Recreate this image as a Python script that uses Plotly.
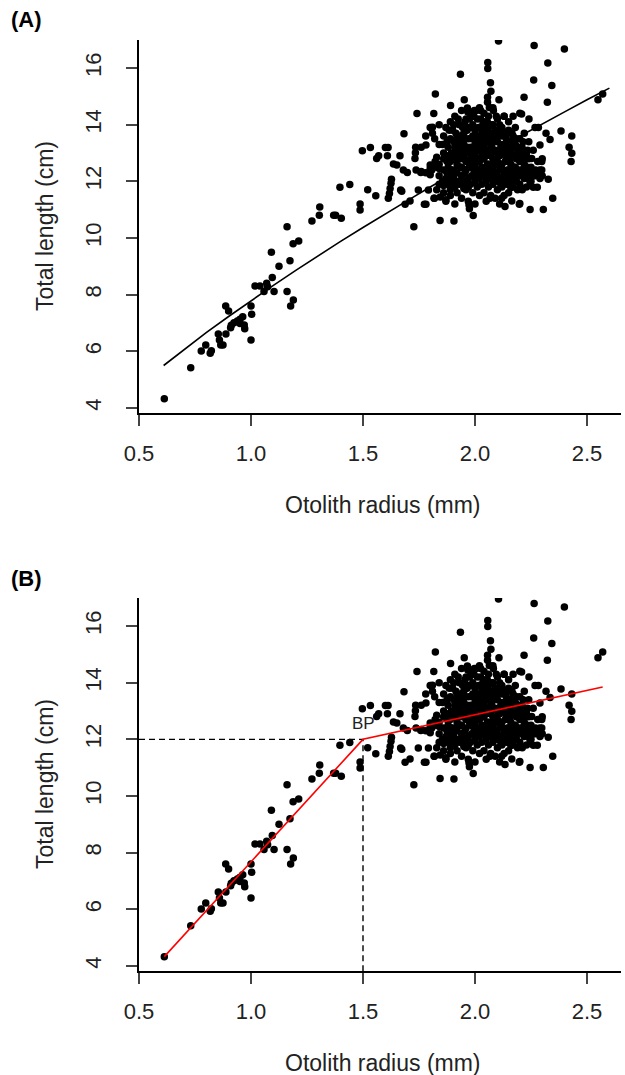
import plotly.graph_objects as go

# ---------------- data ----------------
# sparse small fish (lower-left)
radius_small = [0.613, 0.731, 0.778, 0.798, 0.818, 0.823, 0.854, 0.865, 0.875, 0.859,
                0.888, 0.887, 0.900, 0.909, 0.912, 0.924, 0.939, 0.951, 0.963, 0.970,
                0.972, 0.951, 1.000, 1.003, 1.000, 1.018, 1.040, 1.058, 1.070, 1.074,
                1.095, 1.103, 1.091, 1.125, 1.161, 1.177, 1.189, 1.174, 1.161, 1.188,
                1.213, 1.272, 1.305, 1.307, 1.369, 1.378, 1.403, 1.397, 1.441, 1.487,
                1.487, 1.497, 1.533, 1.521, 1.557, 1.561, 1.570]
length_small = [4.33, 5.42, 6.01, 6.22, 5.93, 6.02, 6.61, 6.22, 6.22, 6.40,
                6.61, 7.60, 7.42, 6.83, 6.92, 7.01, 7.07, 7.13, 7.22, 6.93,
                6.80, 6.98, 7.60, 7.31, 6.40, 8.31, 8.31, 8.11, 8.40, 8.28,
                8.61, 8.11, 9.50, 9.00, 8.11, 7.60, 7.81, 9.20, 10.40, 9.80,
                9.89, 10.60, 10.80, 11.09, 10.80, 10.80, 10.70, 11.79, 11.89, 11.20,
                10.99, 13.08, 13.19, 11.70, 11.49, 12.81, 12.90]

# periphery of the adult cloud
radius_edge = [1.600, 1.612, 1.609, 1.665, 1.735, 1.734, 1.732, 1.781, 1.683, 1.741,
               1.816, 1.823, 1.810, 1.810, 1.636, 1.651, 1.680, 1.698, 1.737, 1.758,
               1.800, 1.807, 1.800, 1.829, 1.822, 1.627, 1.625, 1.621, 1.618, 1.613,
               1.668, 1.673, 1.710, 1.688, 1.747, 1.774, 1.781, 1.792, 1.819, 1.727,
               1.844, 1.906, 1.992, 1.975, 1.973,
               2.105, 2.264, 2.399, 2.057, 2.057, 2.325, 1.935, 2.262, 2.069, 2.343,
               2.071, 2.219, 1.952, 2.056, 2.056, 2.064, 2.107, 2.323, 1.891, 1.966,
               1.968, 1.997, 2.025, 2.082, 2.130, 2.170, 2.200, 2.208, 2.241, 2.268,
               2.283, 2.549, 2.570, 2.384, 2.432, 2.317, 2.335, 2.420, 2.432, 2.429,
               2.290, 2.253, 2.298, 2.298, 2.327, 2.260, 2.278, 2.211, 2.347, 2.200,
               2.246, 2.305, 2.067, 2.119, 2.134, 2.164, 2.198, 2.160, 2.195, 1.829,
               1.817, 1.845, 1.870, 1.860, 1.890, 1.910, 1.950, 1.970]
length_edge = [13.19, 13.19, 12.90, 12.90, 13.20, 13.01, 12.81, 13.28, 13.68, 14.39,
               14.39, 15.08, 13.91, 13.70, 12.61, 12.58, 12.40, 12.31, 12.40, 12.31,
               12.58, 12.40, 12.23, 12.85, 12.70, 12.07, 11.93, 11.75, 11.57, 11.40,
               11.69, 11.65, 11.31, 11.19, 11.69, 11.19, 11.19, 11.69, 11.40, 10.40,
               10.62, 10.60, 10.79, 11.03, 11.17,
               16.95, 16.79, 16.67, 16.19, 15.98, 16.18, 15.78, 15.58, 15.48, 15.38,
               15.18, 14.97, 14.88, 14.97, 14.79, 14.61, 14.88, 14.79, 14.68, 14.59,
               14.45, 14.50, 14.50, 14.50, 14.30, 14.30, 14.40, 14.38, 14.20, 13.90,
               13.90, 14.88, 15.08, 13.78, 13.60, 13.70, 13.48, 13.20, 12.99, 12.70,
               13.28, 12.81, 12.70, 12.40, 12.07, 11.79, 11.79, 11.70, 11.40, 11.22,
               11.01, 11.01, 11.40, 11.40, 11.11, 11.31, 11.19, 11.78, 11.72, 11.70,
               11.40, 11.45, 11.35, 11.85, 11.70, 11.80, 11.75, 11.78]

# dense core of the adult cloud
radius_core = [1.84, 1.84, 1.84, 1.84, 1.86, 1.86, 1.86, 1.86, 1.86, 1.87, 1.87, 1.87,
               1.88, 1.88, 1.88, 1.88, 1.89, 1.89, 1.89, 1.89, 1.89, 1.90, 1.90, 1.90, 1.90,
               1.91, 1.91, 1.91, 1.91, 1.92, 1.92, 1.92, 1.92, 1.92, 1.93, 1.93, 1.93, 1.93,
               1.94, 1.94, 1.94, 1.94, 1.94, 1.95, 1.95, 1.95, 1.95, 1.96, 1.96, 1.96, 1.96, 1.96,
               1.97, 1.97, 1.97, 1.97, 1.98, 1.98, 1.98, 1.98, 1.98, 1.99, 1.99, 1.99, 1.99, 1.99,
               2.00, 2.00, 2.00, 2.00, 2.00, 2.00, 2.01, 2.01, 2.01, 2.01, 2.01,
               2.02, 2.02, 2.02, 2.02, 2.02, 2.02, 2.03, 2.03, 2.03, 2.03, 2.03,
               2.04, 2.04, 2.04, 2.04, 2.04, 2.04, 2.05, 2.05, 2.05, 2.05, 2.05,
               2.06, 2.06, 2.06, 2.06, 2.06, 2.06, 2.07, 2.07, 2.07, 2.07, 2.07,
               2.08, 2.08, 2.08, 2.08, 2.08, 2.08, 2.09, 2.09, 2.09, 2.09, 2.09,
               2.10, 2.10, 2.10, 2.10, 2.10, 2.10, 2.11, 2.11, 2.11, 2.11, 2.11,
               2.12, 2.12, 2.12, 2.12, 2.12, 2.13, 2.13, 2.13, 2.13, 2.13,
               2.14, 2.14, 2.14, 2.14, 2.14, 2.15, 2.15, 2.15, 2.15, 2.15,
               2.16, 2.16, 2.16, 2.16, 2.17, 2.17, 2.17, 2.17, 2.18, 2.18, 2.18, 2.18,
               2.19, 2.19, 2.19, 2.19, 2.20, 2.20, 2.20, 2.20, 2.21, 2.21, 2.21,
               2.22, 2.22, 2.22, 2.23, 2.23, 2.23, 2.24, 2.24, 2.24, 2.25, 2.25,
               2.26, 2.26, 2.28, 2.28, 2.30, 2.30,
               1.80, 1.82, 1.84, 1.78, 1.76, 1.78, 1.80, 1.82, 1.76, 1.84]
length_core = [12.2, 12.6, 13.3, 11.9, 12.4, 13.0, 13.6, 11.6, 12.8, 12.1, 13.9, 11.3,
               12.5, 13.2, 12.9, 11.9, 13.5, 12.2, 14.1, 11.5, 12.7, 12.9, 13.8, 12.4, 11.8,
               13.2, 12.0, 14.3, 11.2, 12.6, 13.6, 12.3, 13.0, 11.6, 14.0, 12.8, 11.9, 13.4,
               12.2, 13.1, 14.5, 12.5, 11.4, 13.7, 12.9, 12.0, 13.3, 12.4, 14.2, 11.7, 13.0, 12.7,
               13.5, 12.1, 13.9, 11.3, 12.8, 13.2, 12.5, 14.4, 11.9, 13.6, 12.2, 13.0, 11.6, 14.0,
               12.6, 13.3, 12.0, 13.8, 12.9, 11.2, 14.2, 12.4, 13.1, 11.8, 13.5,
               12.7, 13.9, 12.1, 13.4, 11.5, 14.6, 13.0, 12.5, 13.7, 11.9, 12.2,
               14.1, 12.8, 13.3, 11.6, 12.4, 14.4, 12.0, 13.6, 12.9, 13.1, 11.3,
               13.9, 12.6, 12.3, 13.4, 14.3, 11.8, 12.9, 13.2, 12.1, 13.7, 11.5,
               14.0, 12.5, 13.5, 12.8, 11.9, 14.6, 12.3, 13.1, 13.8, 12.0, 11.4,
               13.4, 12.7, 14.2, 12.2, 13.0, 11.7, 13.6, 12.4, 12.9, 11.2, 14.0,
               12.1, 13.3, 12.6, 13.9, 11.8, 13.0, 12.3, 13.7, 11.5, 14.3,
               12.8, 13.5, 12.0, 13.2, 11.9, 12.4, 13.8, 12.2, 14.1, 11.6,
               13.1, 12.6, 13.4, 12.0, 12.3, 13.6, 11.8, 12.9, 13.9, 12.5, 12.2, 13.3,
               12.8, 13.0, 11.7, 12.4, 13.5, 12.2, 12.7, 11.9, 12.4, 13.2, 12.9,
               12.1, 13.7, 12.6, 12.3, 13.0, 11.8, 12.8, 12.2, 13.4, 12.5, 12.0,
               12.2, 13.1, 12.3, 12.7, 12.2, 12.8,
               12.45, 12.50, 12.45, 12.30, 12.35, 13.60, 13.90, 13.50, 13.20, 14.00]

# second pass over the dense core (fills between the first pass)
radius_core2 = [1.855, 1.855, 1.875, 1.875, 1.875, 1.885, 1.885, 1.895, 1.895,
                1.905, 1.905, 1.905, 1.915, 1.915, 1.915, 1.925, 1.925, 1.925,
                1.935, 1.935, 1.935, 1.945, 1.945, 1.945, 1.955, 1.955, 1.955,
                1.965, 1.965, 1.965, 1.975, 1.975, 1.975, 1.985, 1.985, 1.985,
                1.995, 1.995, 1.995, 2.005, 2.005, 2.005, 2.005, 2.015, 2.015, 2.015,
                2.025, 2.025, 2.025, 2.035, 2.035, 2.035, 2.045, 2.045, 2.045,
                2.055, 2.055, 2.055, 2.065, 2.065, 2.065, 2.075, 2.075, 2.075,
                2.085, 2.085, 2.085, 2.095, 2.095, 2.095, 2.105, 2.105, 2.105,
                2.115, 2.115, 2.115, 2.125, 2.125, 2.125, 2.135, 2.135, 2.135,
                2.145, 2.145, 2.145, 2.155, 2.155, 2.155, 2.165, 2.165, 2.165,
                2.175, 2.175, 2.175, 2.185, 2.185, 2.185, 2.195, 2.195, 2.205, 2.205,
                2.215, 2.215, 2.215, 2.225, 2.225, 2.235, 2.235, 2.245, 2.245,
                2.270, 2.270, 2.290, 2.290]
length_core2 = [12.0, 13.3, 12.7, 13.4, 12.3, 13.8, 12.0, 13.0, 12.4,
                13.4, 12.2, 14.0, 12.8, 13.7, 12.4, 13.2, 12.0, 14.2,
                12.5, 13.6, 13.0, 12.8, 13.9, 11.9, 12.3, 13.5, 14.1,
                13.2, 12.0, 13.8, 12.6, 13.0, 14.2, 13.5, 12.2, 13.9,
                12.8, 12.4, 14.3, 13.1, 12.3, 13.6, 14.5, 12.8, 12.1, 13.9,
                13.2, 12.4, 14.2, 12.8, 13.5, 14.0, 12.2, 13.0, 13.8,
                12.6, 13.4, 14.1, 12.4, 13.0, 13.6, 12.6, 14.0, 13.3,
                12.2, 13.1, 13.7, 12.6, 13.5, 14.3, 12.0, 12.9, 13.8,
                12.6, 13.2, 11.9, 12.4, 13.0, 13.6, 12.7, 13.3, 12.0,
                12.4, 13.0, 13.7, 12.7, 13.2, 11.9, 12.3, 12.9, 13.7,
                12.5, 13.2, 12.1, 12.8, 13.5, 12.0, 12.3, 13.2, 12.4, 13.0,
                12.2, 13.4, 12.7, 12.4, 12.9, 12.5, 13.1, 12.4, 12.0,
                12.4, 12.2, 12.4, 12.1]

otolith_radius = radius_small + radius_edge + radius_core + radius_core2
total_length = length_small + length_edge + length_core + length_core2

# fitted curve of panel A
fit_radius = [0.61, 0.7, 0.8, 0.9, 1.0, 1.1, 1.2, 1.3, 1.4, 1.5, 1.6, 1.7, 1.8, 1.9,
              2.0, 2.1, 2.2, 2.3, 2.4, 2.5, 2.6]
fit_length = [5.50, 6.06, 6.66, 7.23, 7.79, 8.33, 8.86, 9.38, 9.88, 10.37, 10.86, 11.33,
              11.80, 12.26, 12.71, 13.15, 13.59, 14.03, 14.45, 14.88, 15.29]

# segmented regression of panel B
seg_radius = [0.613, 1.5, 2.57]
seg_length = [4.33, 12.0, 13.85]
bp_radius = 1.5
bp_length = 12.0

x_ticks = [0.5, 1.0, 1.5, 2.0, 2.5]
x_tick_text = ["0.5", "1.0", "1.5", "2.0", "2.5"]
y_ticks = [4, 6, 8, 10, 12, 14, 16]

# ---------------- figure ----------------
W, H = 625, 1075
L, R, T, B = 139, 4, 40, 104
PW, PH = W - L - R, H - T - B

def px(xp):
    return (xp - L) / PW

def py(yp):
    return (H - B - yp) / PH

fig = go.Figure()

dot = dict(color="black", size=7.5, line=dict(width=0))
fig.add_trace(go.Scatter(x=otolith_radius, y=total_length, mode="markers",
                         marker=dot, xaxis="x", yaxis="y", showlegend=False))
fig.add_trace(go.Scatter(x=fit_radius, y=fit_length, mode="lines",
                         line=dict(color="black", width=1.6), xaxis="x", yaxis="y", showlegend=False))

fig.add_trace(go.Scatter(x=otolith_radius, y=total_length, mode="markers",
                         marker=dot, xaxis="x2", yaxis="y2", showlegend=False))
fig.add_trace(go.Scatter(x=[0.5, bp_radius, bp_radius], y=[bp_length, bp_length, 3.0],
                         mode="lines", line=dict(color="black", width=1.4, dash="6px,4px"),
                         xaxis="x2", yaxis="y2", showlegend=False))
fig.add_trace(go.Scatter(x=seg_radius, y=seg_length, mode="lines",
                         line=dict(color="red", width=1.6), xaxis="x2", yaxis="y2", showlegend=False))

xr = [0.5, 0.5 + PW / 224.0]
yr = [4 - 5 / 28.33, 16 + 28 / 28.33]

dom_a = [py(413), py(40)]
dom_b = [py(971), py(598)]

axis_common = dict(showline=True, linecolor="black", linewidth=2, showgrid=False,
                   zeroline=False, ticks="outside", ticklen=11, tickwidth=2,
                   tickcolor="#444", tickfont=dict(family="Liberation Sans", size=22, color="#222"))

fig.update_layout(
    width=W, height=H, margin=dict(l=L, r=R, t=T, b=B),
    paper_bgcolor="white", plot_bgcolor="white",
    xaxis=dict(domain=[0, 1], range=xr, anchor="y", tickvals=x_ticks, ticktext=x_tick_text,
               ticklabelstandoff=9, **axis_common),
    yaxis=dict(domain=dom_a, range=yr, anchor="x", tickvals=y_ticks, tickangle=-90,
               ticklabelstandoff=16, **axis_common),
    xaxis2=dict(domain=[0, 1], range=xr, anchor="y2", tickvals=x_ticks, ticktext=x_tick_text,
                ticklabelstandoff=9, **axis_common),
    yaxis2=dict(domain=dom_b, range=yr, anchor="x2", tickvals=y_ticks, tickangle=-90,
                ticklabelstandoff=16, **axis_common),
)

title_font = dict(family="Liberation Sans", size=23, color="#222")
ann = []
for off in (0, 558):
    ann.append(dict(text="Otolith radius (mm)", x=px(383), y=py(505 + off), xref="paper", yref="paper",
                    showarrow=False, font=title_font, xanchor="center", yanchor="middle"))
    ann.append(dict(text="Total length (cm)", x=px(45), y=py(226 + off), xref="paper", yref="paper",
                    showarrow=False, font=title_font, textangle=-90, xanchor="center", yanchor="middle"))
ann.append(dict(text="<b>(A)</b>", x=px(9), y=py(20), xref="paper", yref="paper", showarrow=False,
                font=dict(family="Liberation Sans", size=22, color="black"), xanchor="left", yanchor="middle"))
ann.append(dict(text="<b>(B)</b>", x=px(9), y=py(578), xref="paper", yref="paper", showarrow=False,
                font=dict(family="Liberation Sans", size=22, color="black"), xanchor="left", yanchor="middle"))
ann.append(dict(text="BP", x=bp_radius, y=bp_length + 0.55, xref="x2", yref="y2", showarrow=False,
                font=dict(family="Liberation Sans", size=17, color="#222"), xanchor="center", yanchor="middle"))
fig.update_layout(annotations=ann)

fig.write_html("out.html")
